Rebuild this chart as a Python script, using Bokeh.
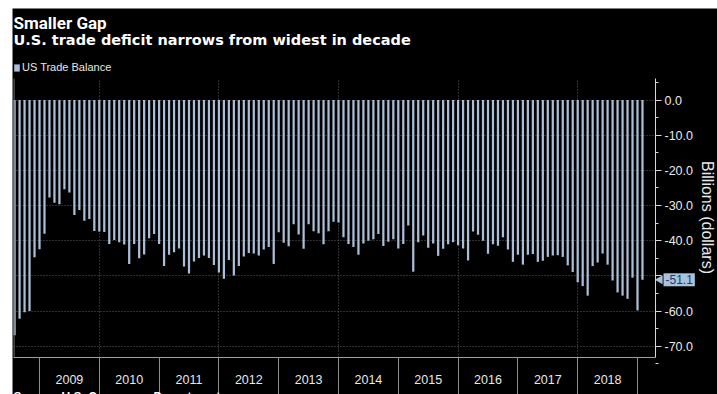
import math
import pandas as pd
from bokeh.plotting import figure
from bokeh.layouts import column, row
from bokeh.models import (ColumnDataSource, FixedTicker, Label, Legend, LegendItem,
                          Range1d, Spacer)
from bokeh.embed import file_html
from bokeh.resources import INLINE

# ---------------- data ----------------
title_text = "Smaller Gap"
subtitle_text = "U.S. trade deficit narrows from widest in decade"
series_name = "US Trade Balance"
axis_title = "Billions (dollars)"
source_text = "Source: U.S. Commerce Department"

months = pd.date_range("2008-07-31", "2019-01-31", freq="ME")  # monthly observations

balance = [
    -66.9, -62.2, -60.3, -60.0, -44.7, -42.4,                                            # 2008 Jul-Dec
    -38.0, -27.7, -29.2, -29.6, -25.4, -26.3, -32.7, -31.3, -34.3, -33.8, -37.2, -37.4,  # 2009
    -37.5, -40.9, -39.8, -40.4, -41.1, -46.6, -40.9, -45.0, -43.9, -39.3, -38.1, -40.9,  # 2010
    -47.2, -44.0, -43.3, -42.2, -47.3, -49.3, -45.9, -44.9, -44.2, -44.9, -46.9, -49.0,  # 2011
    -50.8, -45.5, -49.9, -47.2, -44.5, -43.5, -43.6, -44.2, -42.5, -41.8, -46.6, -37.6,  # 2012
    -40.6, -41.6, -35.3, -38.2, -42.3, -35.3, -37.3, -37.9, -41.0, -37.3, -34.6, -34.8,  # 2013
    -39.0, -40.9, -41.8, -44.0, -40.8, -40.0, -39.6, -38.1, -41.5, -40.3, -39.6, -42.2,  # 2014
    -40.9, -35.7, -48.8, -40.4, -38.5, -42.0, -40.8, -44.3, -42.3, -41.0, -40.4, -41.3,  # 2015
    -42.2, -45.6, -37.4, -38.3, -40.0, -43.7, -41.0, -41.4, -39.0, -42.5, -46.0, -44.0,  # 2016
    -46.8, -44.0, -43.8, -46.0, -45.7, -44.6, -44.2, -44.1, -44.6, -47.0, -48.9, -51.8,  # 2017
    -52.9, -55.6, -47.2, -46.2, -43.6, -46.8, -51.3, -54.7, -55.6, -56.5, -50.5, -59.8,  # 2018
    -51.1,                                                                               # 2019 Jan
]
last_value_label = "-51.1"

year_labels = ["2009", "2010", "2011", "2012", "2013", "2014", "2015", "2016", "2017", "2018"]
y_ticks = [0, -10, -20, -30, -40, -50, -60, -70]
y_tick_labels = ["0.0", "-10.0", "-20.0", "-30.0", "-40.0", "-50.0", "-60.0", "-70.0"]

# ---------------- styling / geometry ----------------
BG = "#000000"
BAR = "#a9bfd8"
CALLOUT = "#a9c1dc"
GRID = "#5e5e5e"
TXT = "#e8e8e8"

FIG_W, FIG_H = 705, 386          # whole figure is the frame
PX_X = 59.8                      # px per year
PX_Y = 3.5183                    # px per billion
ZERO_Y = 91.5                    # px from the figure top to the zero line
# frame extents in data units (frame covers the whole canvas)
XA, XB = 2009 - 27 / PX_X, 2009 + (FIG_W - 27) / PX_X
YA, YB = -(FIG_H - ZERO_Y) / PX_Y, ZERO_Y / PX_Y
# plotting-area (axes box) extents in data units
XL, XR = 2009 - 26 / PX_X, 2009 + 616 / PX_X
YLO, YHI = -257.5 / PX_Y, 21.5 / PX_Y

xs = [m.year + m.month / 12.0 for m in months]      # month-end positions
src = ColumnDataSource(dict(x=xs, bal=balance, month=[m.strftime("%Y-%m") for m in months]))

p = figure(width=FIG_W, height=FIG_H, output_backend="svg", toolbar_location=None,
           x_range=Range1d(XA, XB), y_range=Range1d(YA, YB),
           y_axis_location="right",
           min_border_left=0, min_border_right=0, min_border_top=0, min_border_bottom=0,
           background_fill_color=BG, border_fill_color=BG, outline_line_color=None)

# grids (limited to the axes box)
p.xgrid.ticker = FixedTicker(ticks=[2010, 2012, 2014, 2016, 2018])
p.ygrid.ticker = FixedTicker(ticks=y_ticks)
p.xgrid.cross_bounds = (YLO, YHI)
p.ygrid.cross_bounds = (XL, XR)
for g in (p.xgrid[0], p.ygrid[0]):
    g.grid_line_color = GRID
    g.grid_line_dash = "1 2"
    g.grid_line_width = 1

bars = p.vbar(x="x", width=0.45 / 12, top=0, bottom="bal", source=src,
              fill_color=BAR, line_color=None)

# left edge of the axes box
p.segment(x0=[XL + 0.01], y0=[YLO], x1=[XL + 0.01], y1=[YHI], line_color="#6a6a6a", line_width=1)

# x axis: year labels centred, separators at year boundaries
years_num = [int(y) for y in year_labels]
xa = p.xaxis[0]
xa.fixed_location = YLO
xa.bounds = (XL, XR)
xa.ticker = FixedTicker(ticks=[y + 0.5 for y in years_num],
                        minor_ticks=[y for y in years_num] + [years_num[-1] + 1])
xa.major_label_overrides = {y + 0.5: lab for y, lab in zip(years_num, year_labels)}
xa.major_tick_out = 0
xa.major_tick_in = 0
xa.major_tick_line_color = None
xa.minor_tick_out = 40
xa.minor_tick_in = 0
xa.minor_tick_line_color = "#8c8c8c"
xa.axis_line_color = "#a0a0a0"
xa.major_label_text_color = TXT
xa.major_label_text_font = "Liberation Sans"
xa.major_label_text_font_size = "12.5px"
xa.major_label_standoff = -23

# y axis on the right, fixed at the right edge of the axes box
ya = p.yaxis[0]
ya.fixed_location = XR
ya.bounds = (YLO, YHI)
ya.ticker = FixedTicker(ticks=y_ticks, minor_ticks=[t - 5 for t in y_ticks] + [5])
labels_shown = dict(zip(y_ticks, y_tick_labels))
# the tick label under the last-value callout is covered in the original
for t in y_ticks:
    if abs(t - balance[-1]) < 3:
        labels_shown[t] = ""
ya.major_label_overrides = labels_shown
ya.axis_line_color = "#d8d8d8"
ya.major_tick_out = 6
ya.major_tick_in = 0
ya.major_tick_line_color = "#d8d8d8"
ya.minor_tick_out = 3
ya.minor_tick_in = 0
ya.minor_tick_line_color = "#d8d8d8"
ya.major_label_text_color = TXT
ya.major_label_text_font = "Liberation Sans"
ya.major_label_text_font_size = "12.5px"
ya.major_label_standoff = 3

# axis title (rotated, reads top to bottom)
p.add_layout(Label(x=2009 + 667.5 / PX_X, y=-117.5 / PX_Y, text=axis_title, angle=-math.pi / 2,
                   text_align="center", text_baseline="middle",
                   text_font="Liberation Sans", text_font_size="16px", text_color=TXT))

# last value callout with pointer
p.scatter(x=[XR + 4.5 / PX_X], y=[balance[-1]], marker="triangle", size=9, angle=math.pi / 2,
          fill_color=CALLOUT, line_color=None)
p.add_layout(Label(x=XR + 8 / PX_X, y=balance[-1],
                   text=last_value_label, text_baseline="middle", text_align="left",
                   text_font="Liberation Sans", text_font_size="12px",
                   text_color="#1b3a63", background_fill_color=CALLOUT,
                   padding=2, level="overlay"))

# legend at the top-left
legend = Legend(items=[LegendItem(label=series_name, renderers=[bars])],
                location=(1, FIG_H - 65), orientation="horizontal",
                glyph_width=7, glyph_height=9, label_standoff=2,
                padding=0, margin=0, spacing=0, label_height=8,
                label_text_font="Liberation Sans", label_text_font_size="11px",
                label_text_color=TXT, background_fill_alpha=0, border_line_alpha=0)
p.add_layout(legend)

# titles
p.add_layout(Label(x=XL, y=(ZERO_Y - 4) / PX_Y, text=title_text,
                   text_font="Roboto", text_font_style="bold",
                   text_font_size="17px", text_color="#ffffff",
                   text_align="left", text_baseline="top"))
p.add_layout(Label(x=XL, y=(ZERO_Y - 23) / PX_Y, text=subtitle_text,
                   text_font="DejaVu Sans", text_font_style="bold",
                   text_font_size="14.5px", text_color="#ffffff",
                   text_align="left", text_baseline="top"))

# source line (mostly below the visible area, as in the original)
p.add_layout(Label(x=XL, y=-(381 - ZERO_Y) / PX_Y, text=source_text,
                   text_font="Liberation Sans", text_font_style="bold",
                   text_font_size="12px", text_color="#ffffff",
                   text_align="left", text_baseline="top"))

layout = column(Spacer(height=8, width=717),
                row(Spacer(width=12, height=FIG_H), p))
open("out.html", "w").write(file_html(layout, INLINE))
